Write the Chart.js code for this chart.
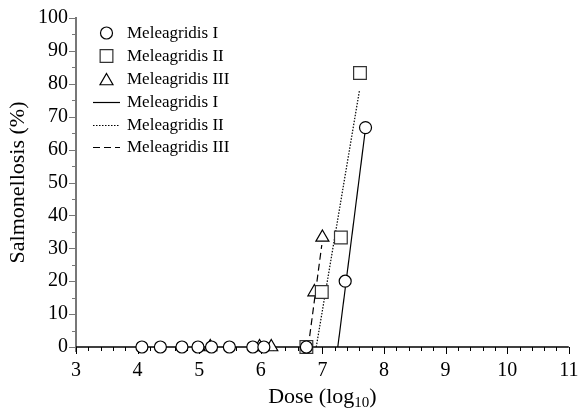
<!DOCTYPE html>
<html>
<head>
<meta charset="utf-8">
<script src="https://cdn.jsdelivr.net/npm/chart.js@4"></script>
<style>
  html, body { margin: 0; padding: 0; background: #fff; }
  #wrap { width: 579px; height: 412px; }
</style>
</head>
<body>
<div id="wrap"><canvas id="chart"></canvas></div>
<script>
// observed points
const seriesNames = ["Meleagridis I", "Meleagridis II", "Meleagridis III"];
const doseI   = [4.07, 4.37, 4.72, 4.98, 5.20, 5.49, 5.87, 6.05, 6.74, 7.37, 7.70];
const pctI    = [0, 0, 0, 0, 0, 0, 0, 0, 0, 20, 66.7];
const doseII  = [6.74, 6.99, 7.30, 7.61];
const pctII   = [0, 16.7, 33.3, 83.3];
const doseIII = [5.18, 5.98, 6.17, 6.87, 7.00];
const pctIII  = [0, 0, 0, 16.7, 33.3];

// fitted lines
const fitDoseI   = [7.25, 7.69];
const fitPctI    = [0, 65];
const fitDoseII  = [6.90, 7.60];
const fitPctII   = [0, 77.8];
const fitDoseIII = [6.77, 6.99];
const fitPctIII  = [0, 31];

const xTickValues = [3, 4, 5, 6, 7, 8, 9, 10, 11];
const yTickValues = [0, 10, 20, 30, 40, 50, 60, 70, 80, 90, 100];

const serif = "'Liberation Serif', 'Times New Roman', serif";

function pairs(xs, ys){
    return xs.map(function(x, i){ return {x: x, y: ys[i]}; });
}

function pointSet(label, xs, ys, style, radius, color){
    return {
        label: label,
        data: pairs(xs, ys),
        showLine: false,
        pointStyle: style,
        pointRadius: radius,
        pointHoverRadius: radius,
        pointBorderWidth: 1.2,
        borderColor: color,
        pointBackgroundColor: "#fff",
        backgroundColor: "#fff",
        clip: false
    };
}

function lineSet(label, xs, ys, dash){
    return {
        label: label,
        data: pairs(xs, ys),
        showLine: true,
        pointRadius: 0,
        borderColor: "#000",
        borderWidth: 1.2,
        borderDash: dash,
        fill: false,
        clip: false
    };
}

// minor/major ticks and axis lines drawn off the library scales
const axisPlugin = {
    id: "axisTicks",
    beforeDatasetsDraw: function(chart){
        const ctx = chart.ctx;
        const xs = chart.scales.x, ys = chart.scales.y;
        const left = xs.left, right = xs.right, bottom = ys.bottom, top = ys.top;
        ctx.save();
        // y axis
        ctx.strokeStyle = "#777";
        ctx.lineWidth = 2;
        ctx.beginPath();
        ctx.moveTo(left, top - 1);
        ctx.lineTo(left, bottom + 5);
        ctx.stroke();
        ctx.lineWidth = 1;
        for (let v = ys.min; v <= ys.max + 0.001; v += 5) {
            const py = Math.round(ys.getPixelForValue(v)) + 0.5;
            const len = (Math.round(v) % 10 === 0) ? 6 : 3;
            ctx.beginPath();
            ctx.moveTo(left - 1, py);
            ctx.lineTo(left - 1 - len, py);
            ctx.stroke();
        }
        // x axis
        ctx.strokeStyle = "#000";
        ctx.lineWidth = 1.5;
        ctx.beginPath();
        ctx.moveTo(left, bottom);
        ctx.lineTo(right, bottom);
        ctx.stroke();
        ctx.lineWidth = 1;
        for (let i = 0; i <= (xs.max - xs.min) * 5; i++) {
            const v = xs.min + i * 0.2;
            const px = Math.round(xs.getPixelForValue(v)) + 0.5;
            const len = (i % 5 === 0) ? 7 : 4;
            ctx.beginPath();
            ctx.moveTo(px, bottom);
            ctx.lineTo(px, bottom + len);
            ctx.stroke();
        }
        ctx.restore();
    },
    afterDraw: function(chart){
        const ctx = chart.ctx;
        const xs = chart.scales.x;
        // x axis title with subscript
        ctx.save();
        ctx.fillStyle = "#000";
        ctx.textBaseline = "alphabetic";
        const mainFont = "22px " + serif, subFont = "15px " + serif;
        ctx.font = mainFont;
        const a = "Dose (log", c = ")";
        const wa = ctx.measureText(a).width, wc = ctx.measureText(c).width;
        ctx.font = subFont;
        const wb = ctx.measureText("10").width;
        const cx = (xs.left + xs.right) / 2;
        let x0 = cx - (wa + wb + wc) / 2;
        const base = 403;
        ctx.font = mainFont;
        ctx.fillText(a, x0, base);
        ctx.font = subFont;
        ctx.fillText("10", x0 + wa, base + 4);
        ctx.font = mainFont;
        ctx.fillText(c, x0 + wa + wb, base);
        ctx.restore();
    }
};

// legend inside the plot
const legendPlugin = {
    id: "innerLegend",
    afterDraw: function(chart){
        const ctx = chart.ctx;
        const rows = [33, 56, 79, 102, 125, 147];
        const markX = 106.5, lineX0 = 93, lineX1 = 120, textX = 127;
        ctx.save();
        chart.data.datasets.forEach(function(ds, i){
            const y = rows[i];
            if (ds.showLine) {
                ctx.strokeStyle = ds.borderColor;
                ctx.lineWidth = ds.borderWidth;
                ctx.setLineDash(ds.borderDash || []);
                ctx.beginPath();
                ctx.moveTo(lineX0, y + 0.5);
                ctx.lineTo(lineX1, y + 0.5);
                ctx.stroke();
                ctx.setLineDash([]);
            } else {
                ctx.strokeStyle = ds.borderColor;
                ctx.fillStyle = "#fff";
                ctx.lineWidth = ds.pointBorderWidth;
                Chart.helpers.drawPoint(ctx, {pointStyle: ds.pointStyle, radius: ds.pointRadius, rotation: 0, borderWidth: ds.pointBorderWidth}, markX, y + (ds.pointStyle === "triangle" ? 2 : 0));
            }
            ctx.fillStyle = "#000";
            ctx.font = "17px " + serif;
            ctx.textBaseline = "middle";
            ctx.fillText(ds.label, textX, y + 1);
        });
        ctx.restore();
    }
};

const ctx = document.getElementById("chart").getContext("2d");
const chart = new Chart(ctx, {
    type: "scatter",
    data: {
        datasets: [
            pointSet(seriesNames[0], doseI, pctI, "circle", 6, "#000"),
            pointSet(seriesNames[1], doseII, pctII, "rect", 9, "#333"),
            pointSet(seriesNames[2], doseIII, pctIII, "triangle", 7.5, "#000"),
            lineSet(seriesNames[0], fitDoseI, fitPctI, []),
            lineSet(seriesNames[1], fitDoseII, fitPctII, [1.5, 1.5]),
            lineSet(seriesNames[2], fitDoseIII, fitPctIII, [7, 4])
        ]
    },
    options: {
        responsive: true,
        maintainAspectRatio: false,
        animation: false,
        events: [],
        layout: { padding: { top: 18, right: 9, left: 0, bottom: 0 } },
        plugins: { legend: { display: false }, tooltip: { enabled: false } },
        scales: {
            x: {
                type: "linear",
                min: xTickValues[0],
                max: xTickValues[xTickValues.length - 1],
                afterBuildTicks: function(s){ s.ticks = xTickValues.map(function(v){ return {value: v}; }); },
                grid: { display: false, drawTicks: true, tickLength: 8 },
                border: { display: false },
                ticks: { color: "#000", font: { family: serif, size: 20 }, padding: 4, maxRotation: 0 },
                title: { display: false },
                afterFit: function(s){ s.height = 65; s.paddingLeft = 0; s.paddingRight = 0; }
            },
            y: {
                type: "linear",
                min: yTickValues[0],
                max: yTickValues[yTickValues.length - 1],
                afterBuildTicks: function(s){ s.ticks = yTickValues.map(function(v){ return {value: v}; }); },
                grid: { display: false, drawTicks: true, tickLength: 6 },
                border: { display: false },
                ticks: { color: "#000", font: { family: serif, size: 20 }, padding: 2 },
                title: { display: true, text: "Salmonellosis (%)", color: "#000", font: { family: serif, size: 22 }, padding: { top: 5, bottom: 0 } },
                afterFit: function(s){ s.width = 76; s.paddingTop = 0; s.paddingBottom = 0; }
            }
        }
    },
    plugins: [axisPlugin, legendPlugin]
});
</script>
</body>
</html>
